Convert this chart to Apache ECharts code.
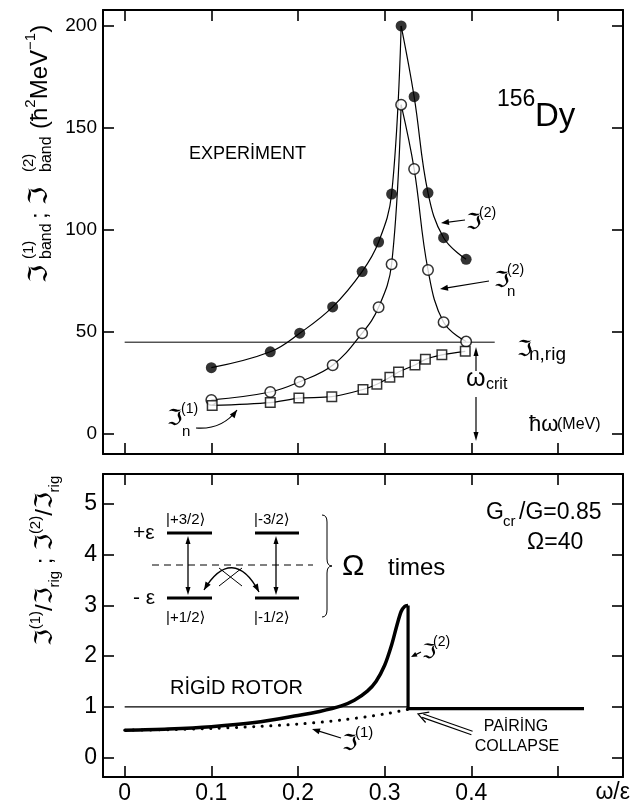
<!DOCTYPE html>
<html>
<head>
<meta charset="utf-8">
<script src="https://cdn.jsdelivr.net/npm/echarts@6/dist/echarts.min.js"></script>
<style>
  html, body { margin: 0; padding: 0; background: #fff; }
  #c { width: 632px; height: 805px; }
</style>
</head>
<body>
<div id="c"></div>
<script>
// ---- Upper panel: 156Dy, band moments of inertia vs. hbar*omega (MeV) ----
const hwExp  = [0.100, 0.168, 0.202, 0.240, 0.274, 0.293, 0.308, 0.319, 0.334, 0.350, 0.368, 0.394];
const J2band = [32.5, 40.3, 49.4, 62.3, 79.6, 94.1, 117.6, 200.0, 165.3, 118.2, 96.2, 85.6];
const J2n    = [16.7, 20.6, 25.6, 33.7, 49.4, 62.1, 83.2, 161.4, 129.9, 80.4, 54.8, 45.3];
const hwJ1n  = [0.101, 0.168, 0.201, 0.239, 0.275, 0.291, 0.306, 0.316, 0.335, 0.347, 0.366, 0.393];
const J1n    = [14.0, 15.4, 17.6, 18.3, 21.8, 24.4, 27.8, 30.4, 33.8, 36.6, 38.8, 40.5];
const JnRig = 45;
const hwRigRange = [0, 0.427];
const yTicksTop = [0, 50, 100, 150, 200];

// ---- Lower panel: model, Gcr/G = 0.85, Omega = 40 ----
const wJ2     = [0, 0.05, 0.10, 0.15, 0.20, 0.225, 0.25, 0.265, 0.28, 0.29, 0.30, 0.308, 0.314, 0.319, 0.323, 0.327];
const J2ratio = [0.54, 0.565, 0.61, 0.69, 0.83, 0.91, 1.02, 1.13, 1.31, 1.50, 1.82, 2.22, 2.60, 2.88, 2.98, 3.00];
const wJ1     = [0, 0.05, 0.10, 0.15, 0.20, 0.25, 0.30, 0.327];
const J1ratio = [0.54, 0.55, 0.575, 0.61, 0.66, 0.74, 0.86, 0.95];
const wCollapse = 0.327;
const wEnd = 0.53;
const ratioAfterCollapse = 0.966;
const rigidRatio = 1;
const xTicks = [0, 0.1, 0.2, 0.3, 0.4, 0.5];
const xTickLabels = [0, 0.1, 0.2, 0.3, 0.4];
const yTicksLow = [0, 1, 2, 3, 4, 5];

const FONT = "'Liberation Sans', 'DejaVu Sans', sans-serif";
const X_MIN = -0.025, X_MAX = 0.575;

const zip = (xs, ys) => xs.map((x, i) => [x, ys[i]]);
const slice = (xs, ys, a, b) => zip(xs, ys).slice(a, b + 1);

function xAxisCfg(grid, pos, labels, fs) {
  return {
    type: 'value', gridIndex: grid, position: pos, min: X_MIN, max: X_MAX,
    axisLine: { show: true, onZero: false, lineStyle: { color: '#000', width: 2 } },
    axisTick: { show: true, inside: true, length: 11, customValues: xTicks, lineStyle: { color: '#000', width: 1.6 } },
    axisLabel: { show: labels, customValues: xTickLabels, margin: 5, fontSize: fs, color: '#000', fontFamily: FONT,
                 formatter: v => (v === 0 ? '0' : String(+v.toFixed(1))) },
    splitLine: { show: false }
  };
}
function yAxisCfg(grid, pos, labels, min, max, ticks, fs) {
  return {
    type: 'value', gridIndex: grid, position: pos, min, max,
    axisLine: { show: true, onZero: false, lineStyle: { color: '#000', width: 2 } },
    axisTick: { show: true, inside: true, length: 11, customValues: ticks, lineStyle: { color: '#000', width: 1.6 } },
    axisLabel: { show: labels, customValues: ticks, margin: 6, fontSize: fs, color: '#000', fontFamily: FONT },
    splitLine: { show: false }
  };
}

// ---- annotation helpers ----
function txt(x, y, text, size, o = {}) {
  return {
    type: 'text', x, y, rotation: o.rot || 0, z: 100,
    style: { text, fontSize: size, fontFamily: o.font || FONT, fill: '#000',
             align: o.align || 'left', verticalAlign: o.va || 'middle',
             fontWeight: o.weight || 'normal', rich: o.rich }
  };
}
function seg(x1, y1, x2, y2, w = 1.2, dash) {
  return { type: 'line', z: 100, shape: { x1, y1, x2, y2 },
           style: { stroke: '#000', lineWidth: w, lineDash: dash || null } };
}
function quad(x1, y1, cx, cy, x2, y2, w = 1) {
  return { type: 'bezierCurve', z: 100, shape: { x1, y1, cpx1: cx, cpy1: cy, x2, y2 },
           style: { stroke: '#000', lineWidth: w, fill: null } };
}
function head(x2, y2, ux, uy, len = 8, w = 3) {
  const bx = x2 - ux * len, by = y2 - uy * len;
  return { type: 'polygon', z: 100,
           shape: { points: [[x2, y2], [bx - uy * w, by + ux * w], [bx + uy * w, by - ux * w]] },
           style: { fill: '#000' } };
}
function unit(dx, dy) { const L = Math.hypot(dx, dy); return [dx / L, dy / L]; }
function arrow(x1, y1, x2, y2, len = 8, w = 3, lw = 1.2) {
  const [ux, uy] = unit(x2 - x1, y2 - y1);
  return [seg(x1, y1, x2 - ux * len * 0.7, y2 - uy * len * 0.7, lw), head(x2, y2, ux, uy, len, w)];
}
function dblArrow(x1, y1, x2, y2, len = 8, w = 3, lw = 1.3) {
  const [ux, uy] = unit(x2 - x1, y2 - y1);
  return [seg(x1 + ux * len * 0.7, y1 + uy * len * 0.7, x2 - ux * len * 0.7, y2 - uy * len * 0.7, lw),
          head(x2, y2, ux, uy, len, w), head(x1, y1, -ux, -uy, len, w)];
}
function curveArrow(x1, y1, cx, cy, x2, y2) {
  const [ux, uy] = unit(x2 - cx, y2 - cy);
  return [quad(x1, y1, cx, cy, x2, y2, 1.2), head(x2, y2, ux, uy, 8, 3)];
}
function hollowArrow(x1, y1, x2, y2) {
  const [ux, uy] = unit(x2 - x1, y2 - y1);
  const nx = -uy, ny = ux, g = 1.8, hl = 10, hw = 5.5;
  const ex = x2 - ux * 5, ey = y2 - uy * 5;
  return [
    seg(x1 + nx * g, y1 + ny * g, ex + nx * g, ey + ny * g, 1.1),
    seg(x1 - nx * g, y1 - ny * g, ex - nx * g, ey - ny * g, 1.1),
    { type: 'polyline', z: 100,
      shape: { points: [[x2 - ux * hl + nx * hw, y2 - uy * hl + ny * hw], [x2, y2], [x2 - ux * hl - nx * hw, y2 - uy * hl - ny * hw]] },
      style: { stroke: '#000', lineWidth: 1.2, fill: null } }
  ];
}
// right curly brace from (x, yTop) to (x, yBot), tip pointing right
function brace(x, yTop, yBot) {
  const ym = (yTop + yBot) / 2;
  return [
    quad(x - 5, yTop, x, yTop, x, yTop + 7),
    seg(x, yTop + 7, x, ym - 7, 1),
    quad(x, ym - 7, x, ym, x + 5, ym),
    quad(x + 5, ym, x, ym, x, ym + 7),
    seg(x, ym + 7, x, yBot - 7, 1),
    quad(x, yBot - 7, x, yBot, x - 5, yBot)
  ];
}

const ROT = Math.PI / 2;
const titleRich = {
  b:   { fontSize: 24, fontFamily: FONT, lineHeight: 34, verticalAlign: 'middle' },
  sup: { fontSize: 15, fontFamily: FONT, lineHeight: 15, verticalAlign: 'top' },
  sub: { fontSize: 15, fontFamily: FONT, lineHeight: 15, verticalAlign: 'bottom' }
};

const graphics = [
  // upper y-axis title (reads bottom to top)
  txt(40, 283, 'ℑ', 26, { rot: ROT }),
  txt(29, 259, '(1)', 15, { rot: ROT }),
  txt(47, 259, 'band', 16, { rot: ROT }),
  txt(40, 219, ';', 24, { rot: ROT }),
  txt(40, 205, 'ℑ', 26, { rot: ROT }),
  txt(29, 172, '(2)', 15, { rot: ROT }),
  txt(47, 172, 'band', 16, { rot: ROT }),
  txt(40, 129, '{b|(ħ}{sup|2}{b|MeV}{sup|−1}{b|)}', 24, { rot: ROT, rich: titleRich }),

  // lower y-axis title
  txt(45, 646, '{b|ℑ}{sup|(1)}{b|/ℑ}{sub|rig}{b| ; ℑ}{sup|(2)}{b|/ℑ}{sub|rig}', 24, { rot: ROT, rich: titleRich }),

  // upper panel labels
  txt(189, 154, 'EXPERİMENT', 18),
  txt(497, 100, '156', 23),
  txt(535, 117, 'Dy', 33),
  txt(466, 223, 'ℑ', 22), txt(479, 213, '(2)', 14),
  ...arrow(465, 220, 441, 223),
  txt(494, 281, 'ℑ', 22), txt(507, 270, '(2)', 14), txt(507, 292, 'n', 15),
  ...arrow(489, 281, 440, 289),
  txt(517, 350, 'ℑ', 22), txt(529, 355, 'n,rig', 19),
  txt(466, 379, 'ω', 25), txt(486, 385, 'crit', 16),
  ...arrow(476, 371, 476, 347, 9, 2.5),
  ...arrow(476, 397, 476, 441, 9, 2.5),
  txt(529, 425, 'ħω', 22), txt(557, 425, '(MeV)', 16),
  txt(167, 419, 'ℑ', 22), txt(181, 409, '(1)', 14), txt(182, 432, 'n', 15),
  ...curveArrow(196, 428, 222, 430, 237, 410),

  // lower panel labels
  txt(486, 513, 'G', 23), txt(503, 522, 'cr', 15), txt(519, 513, '/G=0.85', 23),
  txt(527, 543, 'Ω=40', 23),
  txt(170, 688, 'RİGİD ROTOR', 20),
  txt(422, 652, 'ℑ', 20), txt(433, 642, '(2)', 14),
  ...arrow(421, 652, 411, 657, 6, 2.5),
  txt(342, 744, 'ℑ', 22), txt(355, 733, '(1)', 15),
  ...arrow(341, 738, 312, 729),
  txt(516, 727, 'PAİRİNG', 16, { align: 'center' }),
  txt(517, 747, 'COLLAPSE', 16, { align: 'center' }),
  ...hollowArrow(472, 733, 418, 714),
  txt(630, 793, 'ω/ε', 23, { align: 'right' }),

  // inset: two-level scheme
  txt(166, 520, '|+3/2⟩', 15), txt(254, 520, '|-3/2⟩', 15),
  txt(166, 618, '|+1/2⟩', 15), txt(254, 618, '|-1/2⟩', 15),
  txt(133, 533, '+ε', 21), txt(133, 598, '- ε', 21),
  seg(167, 533, 212, 533, 3), seg(255, 533, 299, 533, 3),
  seg(167, 598, 212, 598, 3), seg(255, 598, 299, 598, 3),
  ...dblArrow(188, 536, 188, 595, 8, 2.5),
  ...dblArrow(276, 536, 276, 595, 8, 2.5),
  seg(152, 565, 313, 565, 1, [7, 5]),
  { type: 'bezierCurve', z: 100, shape: { x1: 204, y1: 590, cpx1: 222, cpy1: 560, cpx2: 242, cpy2: 560, x2: 259, y2: 592 },
    style: { stroke: '#000', lineWidth: 1.3, fill: null } },
  head(204, 590, ...unit(-18, 30), 8, 3),
  head(259, 592, ...unit(17, 32), 8, 3),
  seg(219, 568, 242, 586, 1), seg(219, 586, 242, 568, 1),
  ...brace(327, 515, 617),
  txt(342, 567, 'Ω', 30), txt(388, 568, 'times', 24)
];

const pkA = J2band.indexOf(Math.max(...J2band));
const pkB = J2n.indexOf(Math.max(...J2n));
const thin = { color: '#000', width: 1.2 };
const openItem = { color: '#fff', borderColor: '#000', borderWidth: 1.5 };
const last = J2ratio.length - 1;

const option = {
  animation: false,
  backgroundColor: '#fff',
  textStyle: { fontFamily: FONT },
  grid: [
    { left: 103, top: 10, width: 520, height: 444 },
    { left: 103, top: 474, width: 520, height: 303 }
  ],
  xAxis: [
    xAxisCfg(0, 'bottom', false, 19),
    xAxisCfg(0, 'top', false, 19),
    xAxisCfg(1, 'bottom', true, 23),
    xAxisCfg(1, 'top', false, 23)
  ],
  yAxis: [
    yAxisCfg(0, 'left', true, -9.8, 207.8, yTicksTop, 19),
    yAxisCfg(0, 'right', false, -9.8, 207.8, yTicksTop, 19),
    yAxisCfg(1, 'left', true, -0.383, 5.592, yTicksLow, 23),
    yAxisCfg(1, 'right', false, -0.383, 5.592, yTicksLow, 23)
  ],
  series: [
    // upper: curves through the measured points (rising and falling branches meet at the peak)
    { type: 'line', xAxisIndex: 0, yAxisIndex: 0, data: slice(hwExp, J2band, 0, pkA), smooth: 0.4, showSymbol: false, lineStyle: thin },
    { type: 'line', xAxisIndex: 0, yAxisIndex: 0, data: slice(hwExp, J2band, pkA, hwExp.length - 1), smooth: 0.4, showSymbol: false, lineStyle: thin },
    { type: 'line', xAxisIndex: 0, yAxisIndex: 0, data: slice(hwExp, J2n, 0, pkB), smooth: 0.4, showSymbol: false, lineStyle: thin },
    { type: 'line', xAxisIndex: 0, yAxisIndex: 0, data: slice(hwExp, J2n, pkB, hwExp.length - 1), smooth: 0.4, showSymbol: false, lineStyle: thin },
    { type: 'line', xAxisIndex: 0, yAxisIndex: 0, data: zip(hwJ1n, J1n), smooth: 0.3, showSymbol: false, lineStyle: thin },
    { type: 'line', xAxisIndex: 0, yAxisIndex: 0, data: hwRigRange.map(x => [x, JnRig]), showSymbol: false, lineStyle: { color: '#000', width: 1 } },
    { type: 'scatter', xAxisIndex: 0, yAxisIndex: 0, data: zip(hwExp, J2band), symbol: 'circle', symbolSize: 11, itemStyle: { color: '#000' }, z: 5 },
    { type: 'scatter', xAxisIndex: 0, yAxisIndex: 0, data: zip(hwExp, J2n), symbol: 'circle', symbolSize: 10.5, itemStyle: openItem, z: 5 },
    { type: 'scatter', xAxisIndex: 0, yAxisIndex: 0, data: zip(hwJ1n, J1n), symbol: 'rect', symbolSize: 9.5, itemStyle: openItem, z: 5 },

    // lower: rigid rotor reference, J(1) dotted, J(2) thick with collapse
    { type: 'line', xAxisIndex: 2, yAxisIndex: 2, data: [[0, rigidRatio], [wCollapse, rigidRatio]], showSymbol: false, lineStyle: { color: '#000', width: 1.2 } },
    { type: 'line', xAxisIndex: 2, yAxisIndex: 2, data: zip(wJ1, J1ratio), smooth: 0.3, showSymbol: false,
      lineStyle: { color: '#000', width: 3, type: [0.1, 8.5], cap: 'round' } },
    { type: 'line', xAxisIndex: 2, yAxisIndex: 2, data: zip(wJ2, J2ratio), smooth: 0.3, showSymbol: false, lineStyle: { color: '#000', width: 3.5 } },
    { type: 'line', xAxisIndex: 2, yAxisIndex: 2,
      data: [[wCollapse, J2ratio[last]], [wCollapse, ratioAfterCollapse], [wEnd, ratioAfterCollapse]],
      showSymbol: false, lineStyle: { color: '#000', width: 3.2 } }
  ],
  graphic: graphics
};

const chart = echarts.init(document.getElementById('c'), null, { renderer: 'canvas', width: 632, height: 805 });
chart.setOption(option);
</script>
</body>
</html>
